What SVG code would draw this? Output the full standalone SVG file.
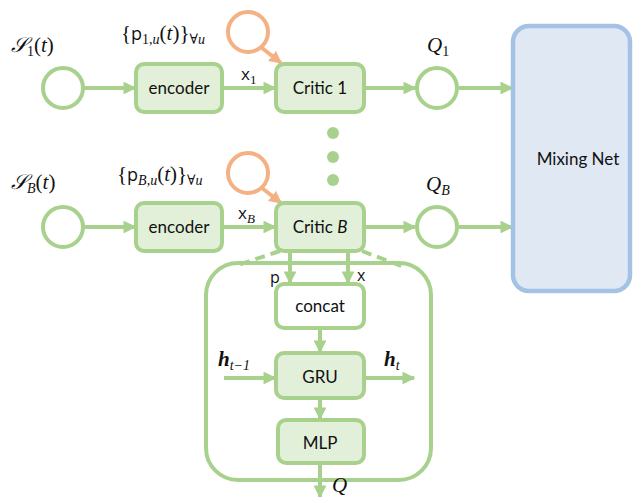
<svg xmlns="http://www.w3.org/2000/svg" width="633" height="497" viewBox="0 0 633 497">
  <defs>
    <marker id="ah" viewBox="0 0 10 10" refX="9" refY="5" markerWidth="3.2" markerHeight="3.2" orient="auto" markerUnits="strokeWidth">
      <path d="M0,0 L10,5 L0,10 Z" fill="#a9d18e"/>
    </marker>
    <marker id="aho" viewBox="0 0 10 10" refX="9" refY="5" markerWidth="3.2" markerHeight="3.2" orient="auto" markerUnits="strokeWidth">
      <path d="M0,0 L10,5 L0,10 Z" fill="#f4b183"/>
    </marker>
  </defs>
  <style>
    .box { fill: #e2efd9; stroke: #a9d18e; stroke-width: 4; }
    .wbox { fill: #ffffff; stroke: #a9d18e; stroke-width: 4; }
    .node { fill: #ffffff; stroke: #a9d18e; stroke-width: 4; }
    .onode { fill: #ffffff; stroke: #f4b183; stroke-width: 4; }
    .mix { fill: #dfe8f3; stroke: #a4c2e4; stroke-width: 4.5; }
    .edge { stroke: #a9d18e; stroke-width: 4; fill: none; marker-end: url(#ah); }
    .oedge { stroke: #f4b183; stroke-width: 4; fill: none; marker-end: url(#aho); }
    .dash { stroke: #a9d18e; stroke-width: 4; fill: none; stroke-dasharray: 10 6; }
    .lbl { font-family: Lato, "Open Sans", "Liberation Sans", sans-serif; font-size: 17px; fill: #111; text-anchor: middle; }
    .math { font-family: "Liberation Serif", "DejaVu Serif", serif; font-size: 21px; fill: #111; }
    .sf { font-family: "Open Sans", "Liberation Sans", sans-serif; fill: #111; }
  </style>

  <!-- connectors -->
  <g id="connectors">
    <line class="edge" x1="84" y1="88" x2="135" y2="88"/>
    <line class="edge" x1="223" y1="88" x2="275" y2="88"/>
    <line class="oedge" x1="262" y1="48" x2="281" y2="63"/>
    <line class="edge" x1="365" y1="88" x2="415" y2="88"/>
    <line class="edge" x1="459" y1="88" x2="512" y2="88"/>

    <line class="edge" x1="84" y1="227" x2="135" y2="227"/>
    <line class="edge" x1="223" y1="227" x2="275" y2="227"/>
    <line class="oedge" x1="262" y1="188" x2="281" y2="203"/>
    <line class="edge" x1="365" y1="227" x2="415" y2="227"/>
    <line class="edge" x1="459" y1="227" x2="512" y2="227"/>

    <line class="dash" x1="280" y1="251" x2="238" y2="265"/>
    <line class="dash" x1="362" y1="251" x2="404" y2="267"/>

    <line class="edge" x1="290" y1="252" x2="290" y2="283"/>
    <line class="edge" x1="348" y1="252" x2="348" y2="283"/>
    <line class="edge" x1="320" y1="329" x2="320" y2="352"/>
    <line class="edge" x1="224" y1="378" x2="275" y2="378"/>
    <line class="edge" x1="366" y1="378" x2="414" y2="378"/>
    <line class="edge" x1="320" y1="399" x2="320" y2="419"/>
    <line class="edge" x1="320" y1="464" x2="320" y2="497"/>
  </g>

  <!-- row 1 -->
  <g id="s1">
    <circle class="node" cx="63" cy="88" r="20"/>
    <text class="math" x="11" y="52"><tspan font-family="DejaVu Serif" font-style="italic">𝒮</tspan><tspan font-size="14" dy="4">1</tspan><tspan dy="-4">(</tspan><tspan font-style="italic">t</tspan>)</text>
  </g>
  <g id="encoder1">
    <rect class="box" x="136" y="64" width="86" height="48" rx="8"/>
    <text class="lbl" x="179" y="94">encoder</text>
  </g>
  <text class="sf" x="241" y="80" font-size="17">x<tspan font-family="Liberation Serif" font-size="13" dy="4">1</tspan></text>
  <g id="p1">
    <circle class="onode" cx="248" cy="32" r="20"/>
    <text class="math" x="121" y="40">{<tspan class="sf" font-size="18">p</tspan><tspan font-size="14" dy="4">1,<tspan font-style="italic">u</tspan></tspan><tspan dy="-4">(</tspan><tspan font-style="italic">t</tspan>)}<tspan font-size="14" dy="4">∀<tspan font-style="italic">u</tspan></tspan></text>
  </g>
  <g id="critic1">
    <rect class="box" x="276" y="64" width="88" height="48" rx="8"/>
    <text class="lbl" x="320" y="94">Critic 1</text>
  </g>
  <g id="q1">
    <circle class="node" cx="437" cy="88" r="20"/>
    <text class="math" x="427" y="52"><tspan font-style="italic">Q</tspan><tspan font-size="14" dy="4">1</tspan></text>
  </g>

  <!-- ellipsis between critics -->
  <g id="dots" fill="#a9d18e">
    <circle cx="333" cy="133" r="6"/>
    <circle cx="333" cy="157" r="6"/>
    <circle cx="333" cy="180" r="6"/>
  </g>

  <!-- row B -->
  <g id="sB">
    <circle class="node" cx="63" cy="227" r="20"/>
    <text class="math" x="11" y="189"><tspan font-family="DejaVu Serif" font-style="italic">𝒮</tspan><tspan font-size="14" font-style="italic" dy="4">B</tspan><tspan dy="-4">(</tspan><tspan font-style="italic">t</tspan>)</text>
  </g>
  <g id="encoderB">
    <rect class="box" x="136" y="203" width="86" height="48" rx="8"/>
    <text class="lbl" x="179" y="233">encoder</text>
  </g>
  <text class="sf" x="238" y="219" font-size="17">x<tspan font-family="Liberation Serif" font-style="italic" font-size="13" dy="4">B</tspan></text>
  <g id="pB">
    <circle class="onode" cx="248" cy="173" r="20"/>
    <text class="math" x="117" y="181">{<tspan class="sf" font-size="18">p</tspan><tspan font-size="14" dy="4"><tspan font-style="italic">B</tspan>,<tspan font-style="italic">u</tspan></tspan><tspan dy="-4">(</tspan><tspan font-style="italic">t</tspan>)}<tspan font-size="14" dy="4">∀<tspan font-style="italic">u</tspan></tspan></text>
  </g>
  <g id="criticB">
    <rect class="box" x="276" y="203" width="88" height="48" rx="8"/>
    <text class="lbl" x="320" y="233">Critic <tspan font-style="italic">B</tspan></text>
  </g>
  <g id="qB">
    <circle class="node" cx="437" cy="227" r="20"/>
    <text class="math" x="426" y="191"><tspan font-style="italic">Q</tspan><tspan font-size="14" font-style="italic" dy="4">B</tspan></text>
  </g>

  <!-- mixing network -->
  <g id="mixing">
    <rect class="mix" x="513" y="26" width="117" height="265" rx="16"/>
    <text class="lbl" x="578" y="165">Mixing Net</text>
  </g>

  <!-- expanded critic internals -->
  <g id="criticDetail">
    <rect x="206" y="263" width="225" height="217" rx="32" fill="none" stroke="#a9d18e" stroke-width="4"/>
  </g>
  <text class="sf" x="270" y="283" font-size="16">p</text>
  <text class="sf" x="357" y="281" font-size="16">x</text>
  <g id="concat">
    <rect class="wbox" x="276" y="284" width="88" height="44" rx="8"/>
    <text class="lbl" x="320" y="312">concat</text>
  </g>
  <g id="gru">
    <rect class="box" x="276" y="353" width="88" height="45" rx="8"/>
    <text class="lbl" x="320" y="383">GRU</text>
  </g>
  <text class="math" x="218" y="366" font-weight="bold" font-style="italic">h<tspan font-size="14" font-weight="normal" dy="4">t−1</tspan></text>
  <text class="math" x="384" y="366" font-weight="bold" font-style="italic">h<tspan font-size="14" font-weight="normal" dy="4">t</tspan></text>
  <g id="mlp">
    <rect class="box" x="278" y="420" width="86" height="43" rx="8"/>
    <text class="lbl" x="320" y="449">MLP</text>
  </g>
  <text class="math" x="332" y="492" font-size="19" font-style="italic">Q</text>
</svg>
